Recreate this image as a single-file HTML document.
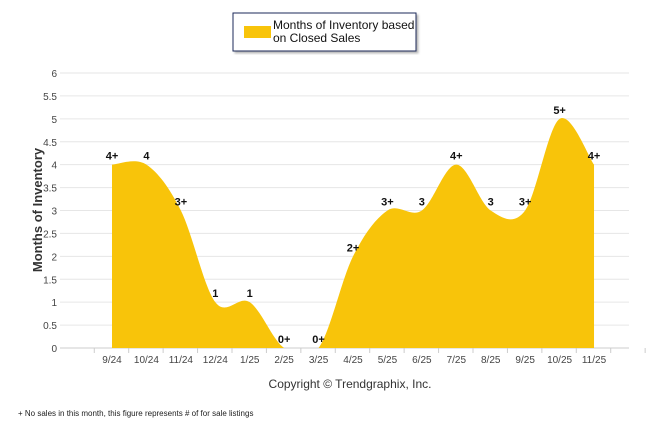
<!DOCTYPE html>
<html><head><meta charset="utf-8"><style>
body{margin:0;background:#fff;width:646px;height:434px;overflow:hidden;font-family:"Liberation Sans",sans-serif}
</style></head><body>
<svg width="646" height="434" xmlns="http://www.w3.org/2000/svg">
<defs><clipPath id="c"><rect x="60" y="60" width="580" height="288"/></clipPath>
<filter id="sh"><feDropShadow dx="2" dy="2" stdDeviation="1" flood-color="#888" flood-opacity="0.6"/></filter></defs>
<g>
<rect x="233" y="13" width="183" height="38" fill="#fff" stroke="#1a2a5a" stroke-width="1" filter="url(#sh)"/>
<rect x="244" y="26" width="27" height="12" fill="#F8C40A"/>
<text x="273" y="29" font-size="12" fill="#111">Months of Inventory based</text>
<text x="273" y="42" font-size="12" fill="#111">on Closed Sales</text>
</g>
<g id="grid"></g>
<g id="area" clip-path="url(#c)"></g>
<g id="labels"></g>
<text transform="translate(42,210) rotate(-90)" text-anchor="middle" font-size="13" font-weight="bold" fill="#333">Months of Inventory</text>
<text x="350" y="388" text-anchor="middle" font-size="12" fill="#333">Copyright © Trendgraphix, Inc.</text>
<text x="18" y="416" font-size="8" fill="#222">+  No sales in this month, this figure represents # of for sale listings</text>
</svg>
<script>
const categories=["9/24","10/24","11/24","12/24","1/25","2/25","3/25","4/25","5/25","6/25","7/25","8/25","9/25","10/25","11/25"];
const values=[4,4,3,1,1,0,0,2,3,3,4,3,3,5,4];
const pointLabels=["4+","4","3+","1","1","0+","0+","2+","3+","3","4+","3","3+","5+","4+"];
const yTicks=[0,0.5,1,1.5,2,2.5,3,3.5,4,4.5,5,5.5,6];
const NS="http://www.w3.org/2000/svg";
const xs=i=>112+i*34.43, ys=v=>348-v*45.83;
function mk(t,a,p){const e=document.createElementNS(NS,t);for(const k in a)e.setAttribute(k,a[k]);p.appendChild(e);return e;}
const grid=document.getElementById('grid');
yTicks.forEach(v=>{
 const l=mk('line',{x1:60,x2:629,y1:ys(v),y2:ys(v),stroke:v===0?'#ccc':'#e6e6e6','stroke-width':1},grid);
 
 
 const t=mk('text',{x:57,y:ys(v)+4,'text-anchor':'end','font-size':10,fill:'#444'},grid);
 t.textContent=String(v);
 
 
});
for(let i=-1;i<=categories.length;i++){mk('line',{x1:xs(i)-0.5+17.2,x2:xs(i)-0.5+17.2,y1:348,y2:353,stroke:'#ccc'},grid);}
categories.forEach((c,i)=>{
 const t=mk('text',{x:xs(i),y:363,'text-anchor':'middle','font-size':10,fill:'#444'},grid);
 t.textContent=c;
 
 
});
const P=values.map((v,i)=>[xs(i),ys(v)]);
let d=`M${P[0][0]},348 L${P[0][0]},${P[0][1]}`;
for(let i=0;i<P.length-1;i++){
 const p0=P[Math.max(0,i-1)],p1=P[i],p2=P[i+1],p3=P[Math.min(P.length-1,i+2)];
 const c1=[p1[0]+(p2[0]-p0[0])/6,p1[1]+(p2[1]-p0[1])/6],c2=[p2[0]-(p3[0]-p1[0])/6,p2[1]-(p3[1]-p1[1])/6];
 d+=` C${c1[0]},${c1[1]} ${c2[0]},${c2[1]} ${p2[0]},${p2[1]}`;
}
d+=` L${P[P.length-1][0]},348 Z`;
const a=mk('path',{d:d,fill:'#F8C40A'},document.getElementById('area'));


const lg=document.getElementById('labels');
pointLabels.forEach((s,i)=>{
 const t=mk('text',{x:xs(i),y:ys(values[i])-5,'text-anchor':'middle','font-size':11,'font-weight':'bold',fill:'#111'},lg);
 t.textContent=s;
 
 
});
</script>
</body></html>
